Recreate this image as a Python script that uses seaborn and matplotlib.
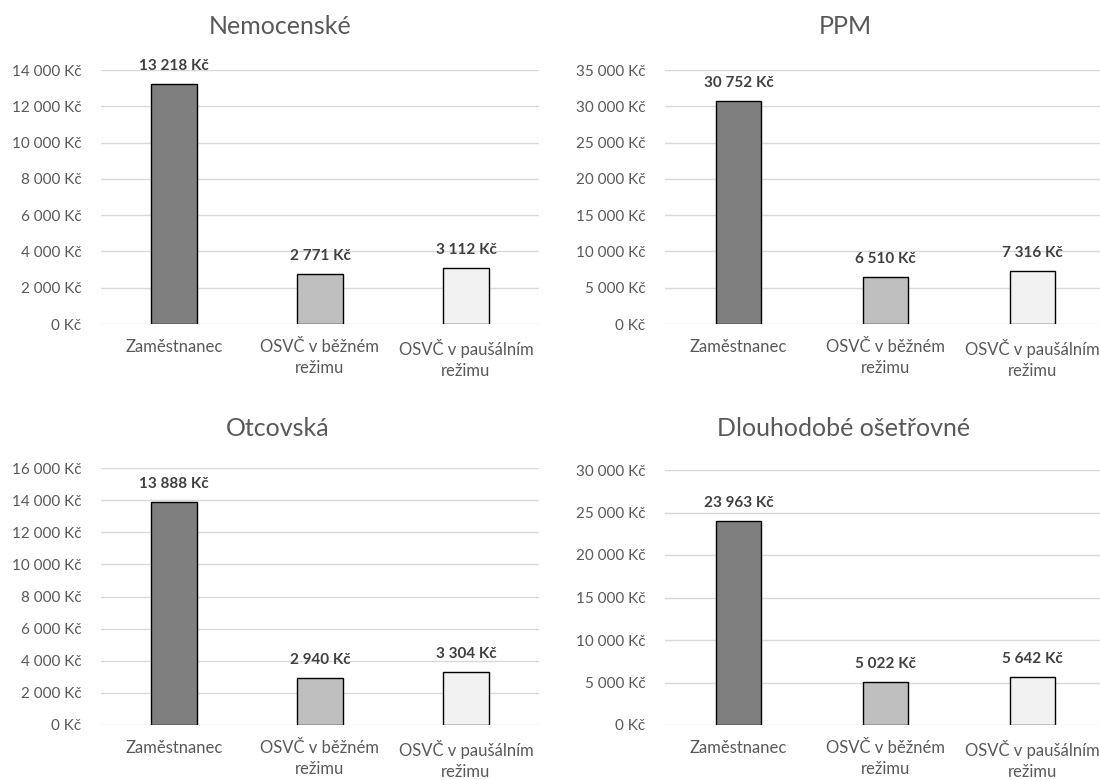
import pandas as pd
import matplotlib
matplotlib.use("Agg")
import matplotlib.pyplot as plt
import seaborn as sns

categories = ["Zaměstnanec", "OSVČ v běžném\nrežimu", "OSVČ v paušálním\nrežimu"]
bar_colors = ["#7f7f7f", "#bfbfbf", "#f2f2f2"]

nemocenske = [13218, 2771, 3112]
ppm = [30752, 6510, 7316]
otcovska = [13888, 2940, 3304]
dlouhodobe = [23963, 5022, 5642]

panels = [
    ("Nemocenské", nemocenske, 14000, 2000),
    ("PPM", ppm, 35000, 5000),
    ("Otcovská", otcovska, 16000, 2000),
    ("Dlouhodobé ošetřovné", dlouhodobe, 30000, 5000),
]

sns.set_style("white")
plt.rcParams["font.family"] = ["Lato", "DejaVu Sans"]

text_col = "#595959"

fig = plt.figure(figsize=(11, 7.8), dpi=100)

# axes boxes in pixels: left, right, top(value max), bottom(zero)
boxes = [(101, 539, 70, 324), (665, 1106, 70, 324),
         (101, 539, 468, 725), (665, 1106, 470, 725)]
title_pos = [(280, 27), (845, 27), (278, 428), (844, 428)]


def fmt(v):
    return f"{v:,.0f}".replace(",", " ") + " Kč"


for (title, vals, ymax, step), (l, r, t, b), (tx, ty) in zip(panels, boxes, title_pos):
    ax = fig.add_axes([l / 1100, 1 - b / 780, (r - l) / 1100, (b - t) / 780])
    df = pd.DataFrame({"kat": categories, "val": vals})
    sns.barplot(data=df, x="kat", y="val", hue="kat", palette=bar_colors,
                edgecolor="black", linewidth=1.0, width=0.31, legend=False,
                ax=ax, zorder=3)
    ax.set_ylim(0, ymax)
    ax.set_xlim(-0.5, 2.5)
    ticks = list(range(0, ymax + 1, step))
    ax.set_yticks(ticks)
    ax.set_yticklabels([fmt(v) for v in ticks], color=text_col, fontsize=11)
    ax.tick_params(axis="x", colors=text_col, labelsize=12, length=0, pad=11)
    ax.tick_params(axis="y", length=0, pad=14)
    for lab in ax.get_xticklabels():
        lab.set_linespacing(1.35)
    ax.set_xlabel("")
    ax.set_ylabel("")
    ax.yaxis.grid(True, color="#d9d9d9", linewidth=1, zorder=0)
    ax.set_axisbelow(True)
    for s in ax.spines.values():
        s.set_visible(False)
    for i, v in enumerate(vals):
        ax.annotate(fmt(v), (i, v), xytext=(0, 10), textcoords="offset points",
                    ha="center", va="baseline", fontsize=11, fontweight="bold",
                    color="#404040")
    fig.text(tx / 1100, 1 - ty / 780, title, ha="center", va="center",
             fontsize=18, color=text_col)

fig.savefig("out.png", dpi=100, facecolor="white")
